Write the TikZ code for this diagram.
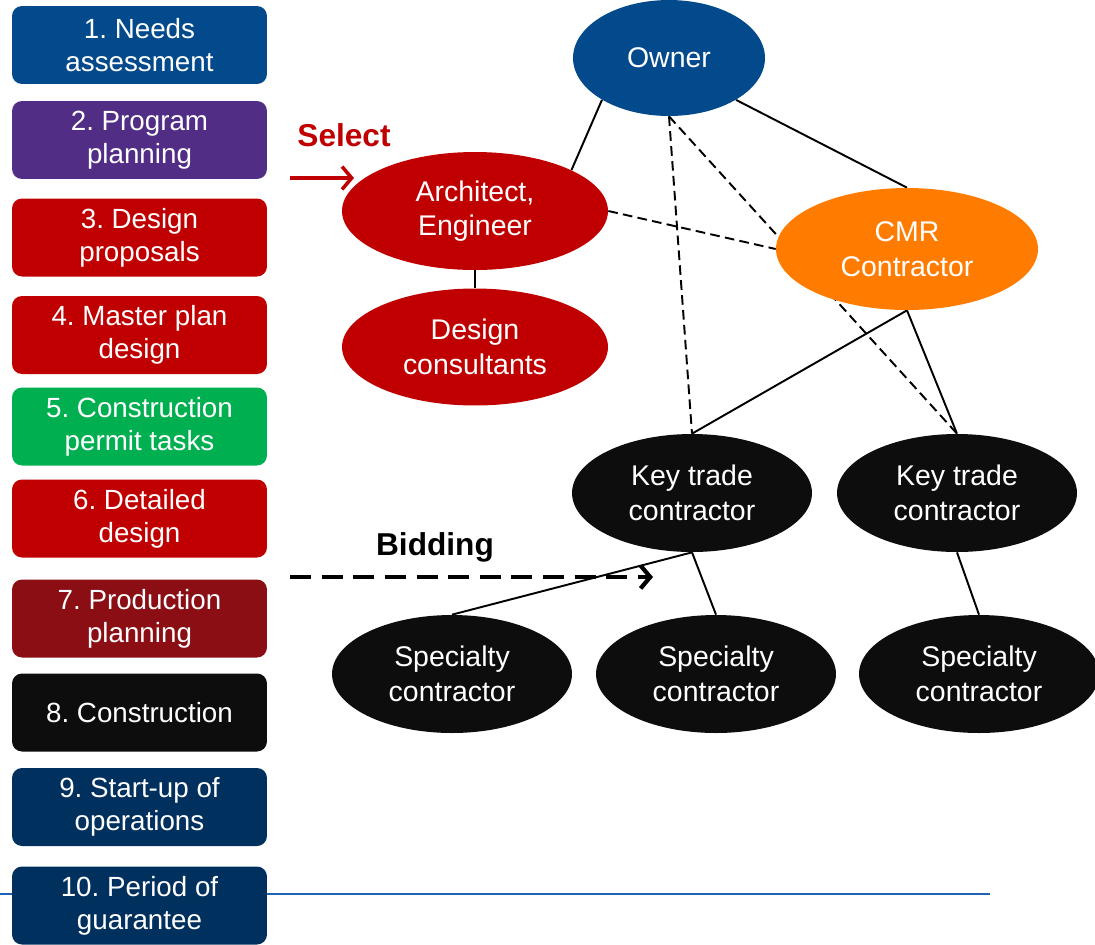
\documentclass[tikz,border=0pt]{standalone}
\usepackage{fontspec}
\setmainfont{Liberation Sans}
\frenchspacing
\usetikzlibrary{shapes.geometric,arrows.meta,backgrounds}
\definecolor{ownerblue}{HTML}{034A8C}
\definecolor{planpurple}{HTML}{522D86}
\definecolor{designred}{HTML}{C00000}
\definecolor{permitgreen}{HTML}{00B050}
\definecolor{prodred}{HTML}{8B0E14}
\definecolor{buildblack}{HTML}{0D0D0D}
\definecolor{opsnavy}{HTML}{00305E}
\definecolor{cmrorange}{HTML}{FF7C00}
\definecolor{rulerblue}{HTML}{1F64B4}
\tikzset{
	phase/.style={rectangle, rounded corners=0.2cm, minimum width=5.1cm, minimum height=1.56cm, inner sep=1pt, text=white, align=center, font=\fontsize{15.8}{18.7}\selectfont},
	party/.style={ellipse, inner sep=1pt, text=white, align=center, font=\fontsize{16.2}{19.6}\selectfont},
	firm/.style={party, fill=buildblack, minimum width=4.8cm, minimum height=2.36cm},
	link/.style={line width=1.1pt},
	dashlink/.style={line width=1.1pt, dash pattern=on 5.5pt off 3pt},
}

\begin{document}
\begin{tikzpicture}[x=0.02cm,y=-0.02cm]
		\useasboundingbox (0,0) rectangle (1095,944);
		\node[phase, fill=ownerblue] (needs) at (139.5,45) {1. Needs\\assessment};
		\node[phase, fill=planpurple] (program) at (139.5,140) {2. Program\\planning};
		\node[phase, fill=designred] (proposals) at (139.5,237.5) {3. Design\\proposals};
		\node[phase, fill=designred] (master) at (139.5,335) {4. Master plan\\design};
		\node[phase, fill=permitgreen] (permit) at (139.5,426.5) {5. Construction\\permit tasks};
		\node[phase, fill=designred] (detailed) at (139.5,518.5) {6. Detailed\\design};
		\node[phase, fill=prodred] (production) at (139.5,618.5) {7. Production\\planning};
		\node[phase, fill=buildblack] (construction) at (139.5,712.5) {8. Construction};
		\node[phase, fill=opsnavy] (startup) at (139.5,807) {9. Start-up of\\operations};
		\node[phase, fill=opsnavy] (guarantee) at (139.5,905.5) {10. Period of\\guarantee};

		\node[party, fill=ownerblue, minimum width=3.84cm, minimum height=2.32cm] (Owner) at (669,58) {Owner};
		\node[party, fill=designred, minimum width=5.32cm, minimum height=2.36cm] (Arch) at (475,211) {Architect,\\Engineer};
		\node[party, fill=designred, minimum width=5.32cm, minimum height=2.34cm] (Cons) at (475,347) {Design\\consultants};
		\node[party, fill=cmrorange, minimum width=5.24cm, minimum height=2.44cm] (CMR) at (907,249) {CMR\\Contractor};
		\node[firm] (KeyA) at (692,493) {Key trade\\contractor};
		\node[firm] (KeyB) at (957,493) {Key trade\\contractor};
		\node[firm] (SpecA) at (452,674) {Specialty\\contractor};
		\node[firm] (SpecB) at (716,674) {Specialty\\contractor};
		\node[firm] (SpecC) at (979,674) {Specialty\\contractor};

		\node[text=designred, font=\fontsize{18}{21}\selectfont\bfseries] (select) at (344,135) {Select};
		\node[font=\fontsize{18}{21}\selectfont\bfseries] (bidding) at (435,547) {Bidding};
		\coordinate (selS) at (290,178);
		\coordinate (selE) at (354,178);
		\coordinate (bidS) at (290,577);
		\coordinate (bidE) at (653,577);
		\coordinate (ruleS) at (0,894);
		\coordinate (ruleE) at (990,894);

		\begin{scope}[on background layer]
			\draw[rulerblue, line width=1.3pt] (ruleS) -- (ruleE);
			\draw[link] (Owner.212) -- (Arch.23);
			\draw[link] (Owner.328) -- (CMR.north);
			\draw[link] (Arch.south) -- (Cons.north);
			\draw[dashlink] (Owner.south) -- (KeyA.north);
			\draw[dashlink] (Owner.south) -- (KeyB.north);
			\draw[dashlink] (Arch.east) -- (CMR.west);
			\draw[link] (CMR.south) -- (KeyA.north);
			\draw[link] (CMR.south) -- (KeyB.north);
			\draw[link] (KeyA.south) -- (SpecA.north);
			\draw[link] (KeyA.south) -- (SpecB.north);
			\draw[link] (KeyB.south) -- (SpecC.north);
		\end{scope}

		\draw[designred, line width=2pt, -{Straight Barb[length=5.5pt,width=13pt]}] (selS) -- (selE);
		\draw[line width=2.4pt, dash pattern=on 12pt off 6pt, -{Straight Barb[length=5.5pt,width=13pt]}] (bidS) -- (bidE);
	\end{tikzpicture}
\end{document}
